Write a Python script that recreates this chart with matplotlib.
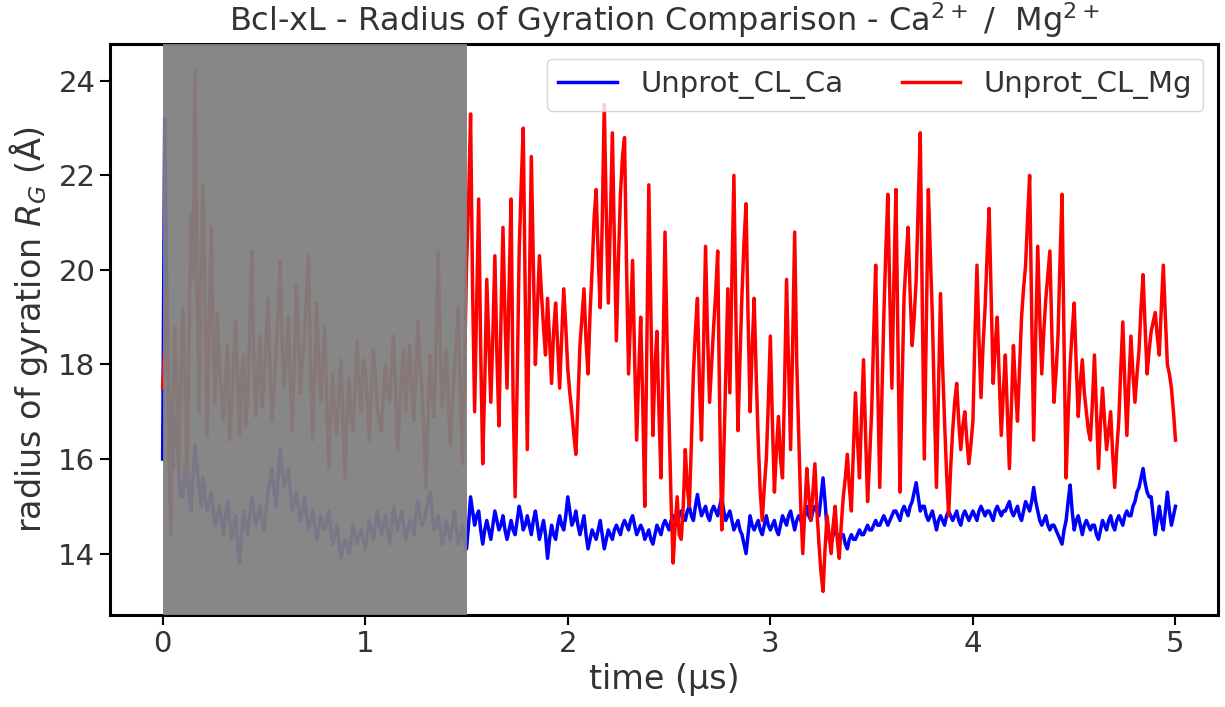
import matplotlib
matplotlib.use("Agg")
import matplotlib.pyplot as plt
import numpy as np

# Radius of gyration traces, one value every 0.01 us
time_step = 0.01

rg_ca = [
    16.0, 23.2, 19.8, 17.5, 16.4, 15.8, 16.9, 16.6, 15.7, 15.2,
    15.2, 15.8, 16.0, 15.3, 14.9, 15.7, 16.3, 15.8, 15.4, 15.0,
    15.6, 15.2, 14.9, 15.1, 15.3, 14.9, 14.6, 14.8, 15.0, 14.7,
    14.4, 14.8, 15.1, 14.7, 14.3, 14.5, 14.8, 14.2, 13.8, 14.4,
    14.9, 14.6, 14.4, 14.8, 15.2, 14.9, 14.6, 14.8, 15.0, 14.7,
    14.5, 14.9, 15.3, 15.5, 15.8, 15.3, 15.0, 15.6, 16.2, 15.8,
    15.4, 15.6, 15.8, 15.3, 14.9, 15.1, 15.3, 15.0, 14.7, 14.9,
    15.2, 14.8, 14.5, 14.7, 14.9, 14.6, 14.3, 14.5, 14.8, 14.6,
    14.5, 14.7, 14.9, 14.5, 14.2, 14.4, 14.6, 14.3, 13.9, 14.1,
    14.3, 14.2, 14.0, 14.3, 14.6, 14.4, 14.2, 14.4, 14.5, 14.3,
    14.1, 14.4, 14.7, 14.5, 14.3, 14.6, 14.9, 14.6, 14.4, 14.6,
    14.8, 14.5, 14.2, 14.6, 15.0, 14.7, 14.5, 14.7, 14.9, 14.6,
    14.3, 14.5, 14.7, 14.6, 14.4, 14.8, 15.1, 14.8, 14.6, 14.7,
    14.9, 15.1, 15.3, 14.9, 14.5, 14.6, 14.8, 14.5, 14.2, 14.4,
    14.7, 14.5, 14.3, 14.6, 14.9, 14.5, 14.2, 14.4, 14.6, 14.3,
    14.1, 14.6, 15.2, 14.9, 14.6, 14.8, 14.9, 14.5, 14.2, 14.5,
    14.7, 14.5, 14.3, 14.6, 14.9, 14.7, 14.5, 14.6, 14.8, 14.5,
    14.3, 14.5, 14.7, 14.5, 14.4, 14.7, 15.0, 14.8, 14.5, 14.6,
    14.8, 14.6, 14.4, 14.7, 14.9, 14.6, 14.3, 14.5, 14.7, 14.4,
    13.9, 14.3, 14.6, 14.4, 14.3, 14.6, 14.8, 14.6, 14.5, 14.8,
    15.2, 14.9, 14.6, 14.7, 14.9, 14.6, 14.4, 14.6, 14.8, 14.4,
    14.1, 14.3, 14.5, 14.4, 14.3, 14.5, 14.7, 14.4, 14.1, 14.3,
    14.5, 14.4, 14.3, 14.5, 14.6, 14.5, 14.4, 14.6, 14.7, 14.6,
    14.5, 14.7, 14.8, 14.6, 14.4, 14.5, 14.6, 14.5, 14.3, 14.4,
    14.5, 14.3, 14.2, 14.4, 14.6, 14.5, 14.4, 14.6, 14.7, 14.6,
    14.5, 14.7, 14.8, 14.7, 14.6, 14.8, 14.9, 14.8, 14.7, 14.9,
    15.0, 14.8, 14.7, 15.0, 15.25, 15.0, 14.8, 14.9, 15.0, 14.8,
    14.7, 14.9, 15.0, 14.9, 14.8, 15.0, 15.2, 14.9, 14.7, 14.8,
    14.9, 14.7, 14.5, 14.6, 14.7, 14.5, 14.4, 14.2, 14.0, 14.4,
    14.8, 14.6, 14.5, 14.6, 14.7, 14.5, 14.4, 14.6, 14.8, 14.6,
    14.5, 14.6, 14.7, 14.5, 14.4, 14.6, 14.8, 14.7, 14.6, 14.8,
    14.9, 14.7, 14.5, 14.7, 14.8, 14.7, 14.6, 14.8, 15.0, 14.8,
    14.7, 14.9, 15.0, 14.9, 14.8, 15.2, 15.6, 15.1, 14.5, 14.3,
    14.2, 14.4, 14.5, 14.4, 14.3, 14.4, 14.4, 14.2, 14.1, 14.3,
    14.4, 14.3, 14.3, 14.4, 14.5, 14.4, 14.4, 14.5, 14.6, 14.5,
    14.5, 14.6, 14.7, 14.6, 14.6, 14.7, 14.8, 14.7, 14.6, 14.7,
    14.8, 14.9, 14.9, 14.8, 14.7, 14.9, 15.0, 14.9, 14.8, 15.0,
    15.1, 15.3, 15.5, 15.2, 14.9, 15.0, 15.0, 14.8, 14.7, 14.8,
    14.9, 14.7, 14.5, 14.7, 14.8, 14.7, 14.6, 14.8, 14.9, 14.8,
    14.7, 14.8, 14.9, 14.7, 14.6, 14.8, 14.9, 14.8, 14.7, 14.8,
    14.9, 14.8, 14.7, 14.9, 15.0, 14.9, 14.8, 14.9, 14.9, 14.8,
    14.7, 14.9, 15.0, 14.9, 14.8, 14.9, 14.9, 15.0, 15.1, 14.9,
    14.8, 14.9, 15.0, 14.8, 14.7, 14.9, 15.1, 15.0, 14.9, 15.1,
    15.4, 15.1, 14.9, 14.7, 14.6, 14.7, 14.8, 14.6, 14.5, 14.6,
    14.6, 14.5, 14.4, 14.3, 14.2, 14.5, 14.7, 15.1, 15.45, 14.9,
    14.5, 14.7, 14.8, 14.6, 14.4, 14.6, 14.7, 14.6, 14.5, 14.6,
    14.6, 14.4, 14.3, 14.5, 14.7, 14.6, 14.5, 14.7, 14.8, 14.6,
    14.5, 14.7, 14.8, 14.7, 14.6, 14.8, 14.9, 14.8, 14.8, 15.0,
    15.1, 15.3, 15.4, 15.6, 15.8, 15.5, 15.3, 15.2, 15.2, 14.8,
    14.4, 14.7, 15.0, 14.7, 14.5, 14.9, 15.3, 14.9, 14.6, 14.8,
    15.0,
]

rg_mg = [
    17.5, 18.4, 19.6, 16.2, 14.4, 17.1, 18.8, 17.4, 15.8, 17.9,
    19.2, 17.6, 15.4, 18.5, 21.2, 19.8, 24.2, 19.5, 17.0, 20.4,
    21.8, 18.9, 16.5, 19.0, 20.9, 18.3, 17.2, 19.1, 18.0, 17.4,
    16.8, 17.7, 18.4, 16.4, 17.0, 18.1, 18.9, 17.6, 16.5, 17.8,
    18.2, 16.7, 17.3, 18.8, 20.4, 18.0, 16.9, 17.8, 18.6, 17.1,
    17.6, 18.5, 19.4, 17.9, 16.8, 17.5, 18.3, 19.1, 20.2, 18.4,
    17.5, 18.2, 19.0, 17.8, 16.6, 18.0, 19.7, 18.6, 17.4, 18.1,
    18.6, 19.5, 20.3, 17.9, 16.4, 17.7, 19.3, 18.2, 17.2, 18.0,
    18.8, 17.1, 15.8, 17.0, 17.8, 16.9, 16.5, 17.4, 18.1, 16.9,
    15.6, 16.8, 17.7, 16.9, 16.6, 17.5, 18.5, 17.6, 17.0, 18.1,
    17.9, 17.2, 16.4, 17.5, 18.3, 17.8, 17.1, 16.8, 16.6, 17.3,
    18.0, 17.5, 17.2, 18.0, 18.6, 17.4, 16.2, 17.0, 17.8, 18.3,
    17.0, 17.7, 18.4, 17.5, 16.8, 17.9, 18.9, 18.0, 17.5, 16.5,
    15.4, 16.9, 18.2, 17.4, 16.9, 18.5, 20.4, 18.6, 17.1, 17.6,
    18.3, 17.2, 16.3, 17.1, 17.9, 18.5, 19.2, 17.4, 15.9, 17.8,
    20.1, 21.4, 23.3, 19.6, 17.0, 19.2, 21.5, 18.3, 15.9, 17.6,
    19.8, 18.5, 17.2, 18.6, 20.3, 18.2, 16.7, 18.9, 20.9, 19.0,
    17.5, 19.6, 21.5, 17.3, 15.2, 17.6, 20.4, 21.8, 23.0, 19.4,
    16.2, 19.5, 22.4, 20.1, 18.0, 19.2, 20.3, 19.5, 18.8, 18.2,
    19.4, 18.5, 17.6, 18.7, 19.3, 18.4, 17.5, 18.6, 19.6, 18.8,
    17.9, 17.4, 17.0, 16.5, 16.1, 17.2, 18.4, 19.0, 19.6, 18.5,
    17.8, 19.1, 20.0, 21.1, 21.7, 20.3, 19.2, 21.0, 23.5, 21.2,
    19.3, 21.0, 22.9, 20.6, 18.5, 20.2, 21.6, 22.4, 22.8, 20.1,
    17.8, 19.0, 20.2, 18.1, 16.4, 17.8, 19.0, 17.2, 15.0, 18.3,
    21.8, 19.2, 16.5, 17.9, 18.7, 17.0, 15.6, 18.1, 20.8, 18.5,
    16.8, 15.1, 13.8, 14.6, 15.2, 14.4, 14.3, 15.0, 16.2, 15.4,
    15.0, 16.3, 17.8, 18.7, 19.4, 17.6, 16.4, 18.3, 20.5, 18.6,
    17.2, 18.0, 18.8, 19.5, 20.4, 17.0, 14.5, 16.1, 17.8, 19.6,
    17.4, 19.8, 22.0, 19.0, 16.6, 18.1, 19.5, 20.6, 21.4, 19.0,
    17.0, 18.3, 19.4, 17.8, 16.4, 15.3, 14.7, 15.4, 16.0, 17.2,
    18.6, 16.8, 15.3, 16.2, 16.9, 16.0, 15.6, 17.5, 19.8, 18.0,
    16.2, 18.4, 20.8, 18.1, 16.5, 15.0, 14.0, 14.9, 15.8, 15.2,
    14.7, 15.3, 15.9, 14.9, 14.2, 13.6, 13.2, 14.1, 14.8, 14.4,
    14.0, 14.6, 15.0, 14.3, 13.9, 14.6, 15.2, 15.6, 16.1, 15.4,
    14.9, 16.2, 17.4, 16.4, 15.6, 16.9, 18.1, 16.5, 15.1, 16.0,
    17.0, 18.6, 20.1, 17.6, 15.4, 17.2, 19.0, 20.4, 21.6, 19.4,
    17.5, 19.8, 21.7, 18.4, 15.3, 17.5, 19.4, 20.2, 20.9, 19.5,
    18.4, 19.0, 19.8, 21.4, 22.9, 19.3, 16.0, 18.9, 21.7, 20.3,
    19.0, 17.1, 15.4, 17.5, 19.5, 18.0, 16.8, 15.7, 14.8, 15.8,
    16.6, 17.2, 17.6, 16.8, 16.2, 16.7, 17.0, 16.4, 15.9, 16.3,
    16.8, 18.6, 20.1, 18.5, 17.3, 18.4, 19.2, 20.3, 21.3, 19.4,
    17.6, 18.4, 19.0, 17.7, 16.5, 17.4, 18.2, 17.0, 15.8, 17.1,
    18.4, 17.5, 16.8, 17.9, 19.0, 19.6, 20.1, 21.1, 22.0, 19.1,
    16.4, 18.6, 20.5, 19.0, 17.8, 18.7, 19.4, 19.9, 20.4, 18.6,
    17.2, 17.8, 18.6, 20.2, 21.6, 18.4, 15.6, 16.9, 18.0, 18.7,
    19.3, 18.0, 16.9, 17.6, 18.1, 17.4, 17.0, 16.6, 16.4, 17.2,
    18.2, 17.0, 15.8, 16.8, 17.5, 16.8, 16.2, 16.6, 17.0, 16.1,
    15.4, 16.2, 16.8, 17.9, 18.9, 17.6, 16.5, 17.6, 18.6, 17.8,
    17.2, 17.8, 18.3, 19.2, 19.9, 18.8, 17.8, 18.3, 18.7, 18.9,
    19.1, 18.6, 18.2, 19.2, 20.1, 19.0, 18.0, 17.8, 17.5, 17.0,
    16.4,
]

labels = ["Unprot_CL_Ca", "Unprot_CL_Mg"]
equil_end = 1.5  # equilibration part that gets greyed out

t_ca = np.arange(len(rg_ca)) * time_step
t_mg = np.arange(len(rg_mg)) * time_step

big = 24
small = 21
txt = "#333333"

fig = plt.figure(figsize=(12.25, 7.07), dpi=100)
ax = fig.add_axes([0.0898, 0.1301, 0.9045, 0.8077])

ax.plot(t_ca, rg_ca, color="blue", lw=2.5, label=labels[0])
ax.plot(t_mg, rg_mg, color="red", lw=2.5, label=labels[1])
ax.axvspan(0, equil_end, color="gray", alpha=0.94, lw=0, zorder=3)

ax.set_xlim(-0.26, 5.21)
ax.set_ylim(12.7, 24.78)
ax.set_xticks([0, 1, 2, 3, 4, 5])
ax.set_yticks([14, 16, 18, 20, 22, 24])

ax.set_title(r"Bcl-xL - Radius of Gyration Comparison - Ca$^{2+}$ /  Mg$^{2+}$",
             fontsize=23, color=txt, pad=9)
ax.set_xlabel("time (μs)", fontsize=big, color=txt, labelpad=4)
ax.set_ylabel(r"radius of gyration $R_G$ (Å)", fontsize=big, color=txt, labelpad=6)
ax.tick_params(labelsize=small, length=7, width=1.5, labelcolor=txt)
for sp in ax.spines.values():
    sp.set_linewidth(2.2)

ax.legend(loc="upper right", ncol=2, fontsize=small, labelcolor=txt)

fig.savefig("out.png", dpi=100)
